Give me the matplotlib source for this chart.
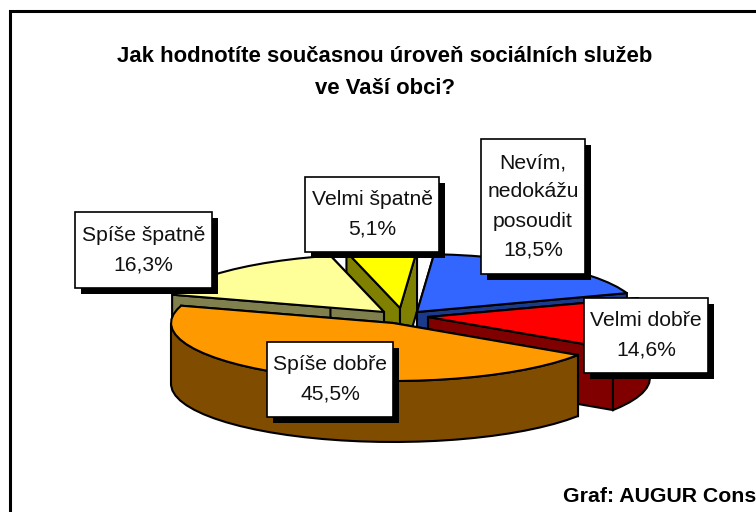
import numpy as np
import matplotlib
matplotlib.use('Agg')
import matplotlib.pyplot as plt
from matplotlib.patches import Polygon, Rectangle

plt.rcParams['font.family'] = ['Liberation Sans', 'DejaVu Sans']

# data, clockwise from the right front corner
categories = ['Velmi dobře', 'Spíše dobře', 'Spíše špatně', 'Velmi špatně', 'Nevím,\nnedokážu\nposoudit']
values = [14.6, 45.5, 16.3, 5.1, 18.5]
value_labels = ['14,6%', '45,5%', '16,3%', '5,1%', '18,5%']

top_colors = ['#FF0000', '#FF9900', '#FFFF99', '#FFFF00', '#3366FF']
side_colors = ['#800000', '#7F4C00', '#80804F', '#808000', '#1A3A8C']

# pie geometry in pixels of the picture
start_deg = -19
rx, ry, depth = 222, 58, 61
apex = [(428, 317), (393, 323), (384, 312), (400, 308), (417, 312)]
boxes = [(584, 298, 708, 373), (267, 342, 393, 417), (75, 212, 212, 288),
         (305, 177, 439, 252), (481, 139, 585, 274)]
draw_order = [3, 4, 2, 0, 1]

fig = plt.figure(figsize=(7.56, 5.12), dpi=100)
ax = fig.add_axes([0, 0, 1, 1])
ax.set_xlim(0, 756)
ax.set_ylim(512, 0)
ax.axis('off')

# outer frame runs off the right and bottom of the picture
ax.plot([9.5, 9.5, 770], [520, 11, 11], color='black', lw=2.2, solid_joinstyle='miter', clip_on=False)

ax.text(385, 57, 'Jak hodnotíte současnou úroveň sociálních služeb', fontsize=15.9,
        fontweight='bold', ha='center', va='center')
ax.text(385, 88, 've Vaší obci?', fontsize=15.9, fontweight='bold', ha='center', va='center')
ax.text(563, 497, 'Graf: AUGUR Cons', fontsize=15.3, fontweight='bold', ha='left', va='center', clip_on=True)

# slice angles, screen coordinates so angles grow clockwise
spans = np.array(values) / sum(values) * 360
starts = start_deg + np.concatenate([[0], np.cumsum(spans)[:-1]])


def arc(cx, cy, t0, t1):
    t = np.radians(np.arange(t0, t1, 5.0).tolist() + [t1])
    return np.column_stack([cx + rx * np.cos(t), cy + ry * np.sin(t)])


for i in draw_order:
    cx, cy = apex[i]
    t0, t1 = starts[i], starts[i] + spans[i]
    rim = arc(cx, cy, t0, t1)
    down = np.array([0, depth])
    for end in (rim[0], rim[-1]):
        face = [(cx, cy), end, end + down, (cx, cy + depth)]
        ax.add_patch(Polygon(face, closed=True, fc=side_colors[i], ec='black', lw=1.5))
    # only the part of the rim that faces the viewer has a wall
    for k in (0, 360):
        a, b = max(t0, k), min(t1, k + 180)
        if a < b:
            wall = arc(cx, cy, a, b)
            ax.add_patch(Polygon(np.vstack([wall, (wall + down)[::-1]]), closed=True,
                                 fc=side_colors[i], ec='black', lw=1.5))
    ax.add_patch(Polygon(np.vstack([[(cx, cy)], rim]), closed=True, fc=top_colors[i], ec='black', lw=1.5))

# data labels with a hard drop shadow
for name, val, (x0, y0, x1, y1) in zip(categories, value_labels, boxes):
    ax.add_patch(Rectangle((x0 + 6, y0 + 6), x1 - x0, y1 - y0, fc='black', ec='black', lw=0, zorder=5))
    ax.add_patch(Rectangle((x0, y0), x1 - x0, y1 - y0, fc='white', ec='black', lw=1.2, zorder=6))
    ax.text((x0 + x1) / 2, (y0 + y1) / 2, name + '\n' + val, fontsize=15.2, ha='center', va='center',
            linespacing=1.67, color='#111111', zorder=7)

fig.savefig('out.png', dpi=100)
